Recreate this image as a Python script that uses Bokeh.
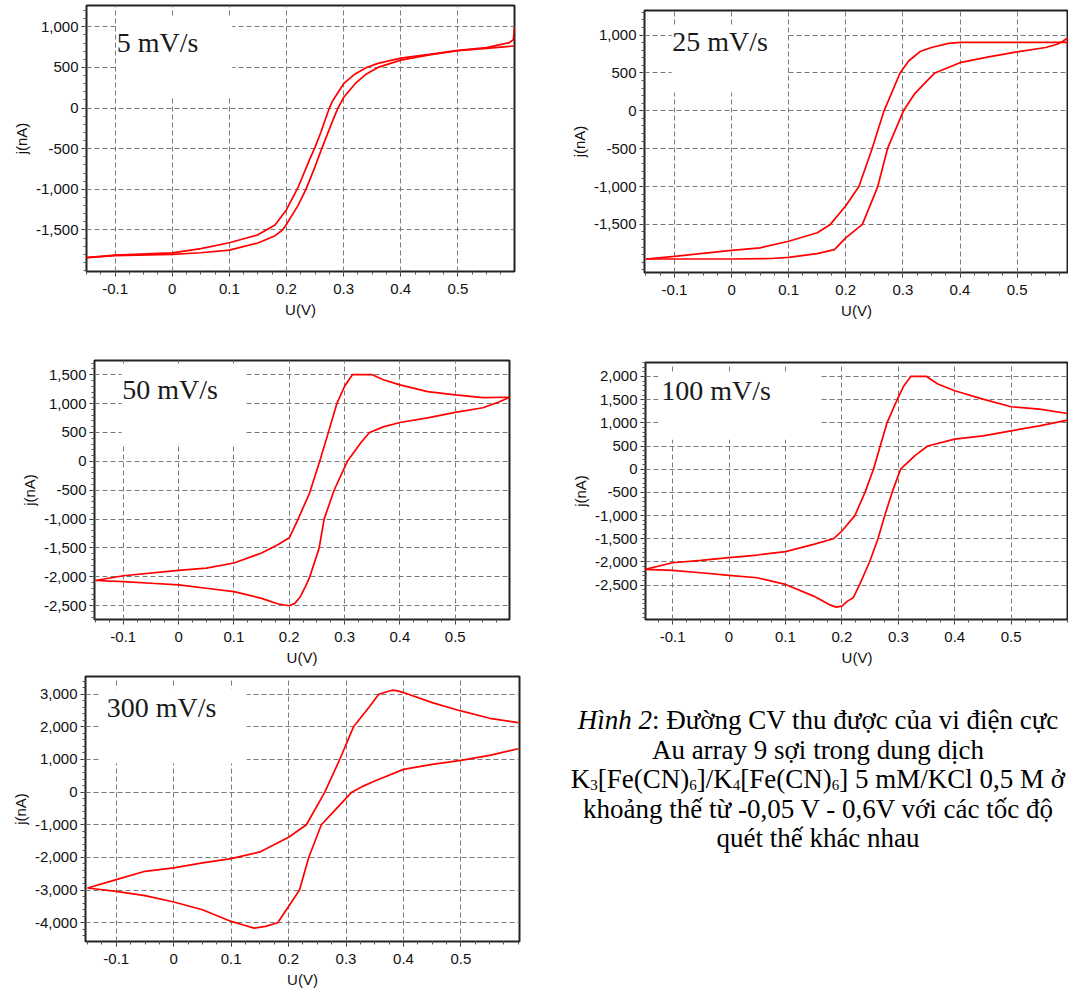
from bokeh.plotting import figure
from bokeh.layouts import column, row
from bokeh.models import (FixedTicker, NumeralTickFormatter, Label, BoxAnnotation,
                          Div, Range1d)
from bokeh.embed import file_html
from bokeh.resources import INLINE

# ---------------- data ----------------
X_TICKS = [-0.1, 0.0, 0.1, 0.2, 0.3, 0.4, 0.5]
X_MINOR = [-0.15 + 0.025 * i for i in range(31)]

# 5 mV/s
U5_UP = [-0.15, -0.1, 0.0, 0.05, 0.1, 0.15, 0.18, 0.2, 0.22, 0.24, 0.25, 0.26, 0.275, 0.28,
         0.3, 0.32, 0.34, 0.36, 0.4, 0.45, 0.5, 0.55, 0.58, 0.59, 0.597, 0.599]
J5_UP = [-1840, -1810, -1782, -1730, -1657, -1560, -1440, -1250, -980, -640, -480, -300, 0, 80,
         300, 420, 500, 550, 615, 660, 710, 743, 790, 805, 840, 1000]
U5_DN = [-0.15, -0.1, 0.0, 0.05, 0.1, 0.15, 0.18, 0.193, 0.2, 0.22, 0.234, 0.25, 0.26, 0.28,
         0.29, 0.3, 0.32, 0.34, 0.36, 0.4, 0.45, 0.5, 0.55, 0.599]
J5_DN = [-1840, -1815, -1800, -1780, -1748, -1660, -1570, -1500, -1430, -1200, -1000, -720, -530,
         -170, 0, 130, 300, 420, 500, 590, 655, 705, 735, 764]
J5_TICKS = [-1500, -1000, -500, 0, 500, 1000]

# 25 mV/s
U25_UP = [-0.15, -0.1, 0.0, 0.05, 0.1, 0.15, 0.173, 0.2, 0.223, 0.246, 0.267, 0.28, 0.295, 0.31,
          0.33, 0.35, 0.38, 0.4, 0.5, 0.59]
J25_UP = [-1957, -1922, -1842, -1810, -1722, -1610, -1500, -1254, -1000, -500, 0, 230, 500, 658,
          783, 836, 890, 903, 903, 905]
U25_DN = [-0.15, -0.1, 0.0, 0.07, 0.1, 0.15, 0.18, 0.2, 0.229, 0.256, 0.273, 0.301, 0.32, 0.34,
          0.356, 0.4, 0.45, 0.5, 0.55, 0.57, 0.58, 0.59]
J25_DN = [-1957, -1957, -1957, -1950, -1935, -1886, -1833, -1677, -1500, -1000, -500, 0, 220, 380,
          500, 636, 712, 778, 836, 880, 920, 970]
J25_TICKS = [-1500, -1000, -500, 0, 500, 1000]

# 50 mV/s
U50_UP = [-0.15, -0.1, 0.0, 0.05, 0.1, 0.15, 0.18, 0.2, 0.216, 0.237, 0.255, 0.27, 0.286, 0.3,
          0.314, 0.32, 0.35, 0.37, 0.4, 0.45, 0.5, 0.55, 0.598]
J50_UP = [-2063, -1981, -1888, -1848, -1760, -1586, -1440, -1324, -1000, -540, 0, 480, 1000, 1300,
          1500, 1500, 1500, 1412, 1324, 1208, 1150, 1103, 1110]
U50_DN = [-0.15, -0.1, -0.05, 0.0, 0.05, 0.1, 0.15, 0.18, 0.2, 0.21, 0.22, 0.23, 0.237, 0.254,
          0.263, 0.281, 0.305, 0.33, 0.345, 0.37, 0.4, 0.45, 0.5, 0.55, 0.58, 0.598]
J50_DN = [-2063, -2081, -2110, -2139, -2197, -2255, -2372, -2470, -2500, -2459, -2343, -2150, -2000,
          -1500, -1000, -500, 0, 330, 500, 597, 672, 754, 847, 928, 1033, 1110]
J50_TICKS = [-2500, -2000, -1500, -1000, -500, 0, 500, 1000, 1500]

# 100 mV/s
U100_UP = [-0.15, -0.1, -0.05, 0.0, 0.05, 0.1, 0.15, 0.185, 0.2, 0.223, 0.241, 0.256, 0.268, 0.28,
           0.298, 0.31, 0.322, 0.35, 0.37, 0.4, 0.45, 0.5, 0.55, 0.6]
J100_UP = [-2160, -2016, -1966, -1908, -1850, -1778, -1620, -1500, -1332, -1000, -500, 0, 500, 1000,
           1500, 1800, 2000, 2000, 1836, 1692, 1512, 1347, 1296, 1202]
U100_DN = [-0.15, -0.1, -0.05, 0.0, 0.05, 0.1, 0.15, 0.18, 0.19, 0.2, 0.21, 0.22, 0.231, 0.249,
           0.264, 0.276, 0.289, 0.304, 0.33, 0.352, 0.4, 0.45, 0.5, 0.55, 0.6]
J100_DN = [-2160, -2182, -2232, -2290, -2340, -2484, -2736, -2931, -2974, -2952, -2844, -2772, -2500,
           -2000, -1500, -1000, -500, 0, 300, 500, 648, 720, 828, 936, 1058]
J100_TICKS = [-2500, -2000, -1500, -1000, -500, 0, 500, 1000, 1500, 2000]

# 300 mV/s
U300_UP = [-0.15, -0.1, -0.05, 0.0, 0.05, 0.1, 0.15, 0.2, 0.231, 0.263, 0.289, 0.313, 0.34, 0.357,
           0.38, 0.39, 0.4, 0.45, 0.5, 0.55, 0.6]
J300_UP = [-2936, -2680, -2425, -2321, -2168, -2035, -1831, -1381, -1000, 0, 1000, 2000, 2600, 3000,
           3122, 3101, 3050, 2743, 2487, 2262, 2129]
U300_DN = [-0.15, -0.1, -0.05, 0.0, 0.05, 0.1, 0.12, 0.14, 0.16, 0.181, 0.2, 0.219, 0.235, 0.257,
           0.28, 0.31, 0.33, 0.35, 0.4, 0.45, 0.5, 0.55, 0.6]
J300_DN = [-2936, -3039, -3172, -3366, -3602, -3960, -4062, -4164, -4113, -4000, -3500, -3000, -2000,
           -1000, -566, 0, 185, 339, 697, 850, 973, 1126, 1330]
J300_TICKS = [-4000, -3000, -2000, -1000, 0, 1000, 2000, 3000]

SPEEDS = ["5 mV/s", "25 mV/s", "50 mV/s", "100 mV/s", "300 mV/s"]

CAPTION_LINES = [
    "<i>Hình 2</i>: Đường CV thu được của vi điện cực",
    "Au array 9 sợi trong dung dịch",
    "K<sub>3</sub>[Fe(CN)<sub>6</sub>]/K<sub>4</sub>[Fe(CN)<sub>6</sub>] 5 mM/KCl 0,5 M ở",
    "khoảng thế từ -0,05 V - 0,6V với các tốc độ",
    "quét thế khác nhau",
]

# ---------------- styling / layout ----------------
TICK_FONT = "Liberation Sans"
RED = "#ff0000"


def panel(w, h, borders, xr, yr, yticks, yminor, ux_up, jy_up, ux_dn, jy_dn,
          box, speed, lpos):
    l, r, t, b = borders
    p = figure(width=w, height=h, x_range=Range1d(*xr), y_range=Range1d(*yr),
               output_backend="svg", toolbar_location=None,
               min_border_left=l, min_border_right=r, min_border_top=t,
               min_border_bottom=b)
    p.title.visible = False
    p.background_fill_color = "white"
    p.border_fill_color = "white"
    p.outline_line_color = "#222222"
    p.outline_line_width = 2

    p.xaxis.ticker = FixedTicker(ticks=X_TICKS, minor_ticks=X_MINOR)
    p.xaxis.formatter = NumeralTickFormatter(format="0.[0]")
    ymin = [v for v in range(-5000, 4000, yminor)]
    p.yaxis.ticker = FixedTicker(ticks=yticks, minor_ticks=ymin)
    p.yaxis.formatter = NumeralTickFormatter(format="0,0")
    p.xaxis.axis_label = "U(V)"
    p.yaxis.axis_label = "j(nA)"
    for ax in (p.xaxis[0], p.yaxis[0]):
        ax.axis_line_color = None
        ax.major_tick_in = 0
        ax.major_tick_out = 5
        ax.minor_tick_in = 0
        ax.minor_tick_out = 3
        ax.major_tick_line_color = "#333333"
        ax.minor_tick_line_color = "#555555"
        ax.major_label_text_font = TICK_FONT
        ax.major_label_text_font_size = "15px"
        ax.major_label_text_color = "#111111"
        ax.axis_label_text_font = TICK_FONT
        ax.axis_label_text_font_size = "15px"
        ax.axis_label_text_font_style = "normal"
        ax.axis_label_text_color = "#111111"
    p.xaxis.major_label_standoff = 7
    p.xaxis.axis_label_standoff = 4
    p.yaxis.major_label_standoff = 3
    p.yaxis.axis_label_standoff = 3

    p.grid.grid_line_color = "#7a7a7a"
    p.grid.grid_line_dash = "5 3"
    p.grid.grid_line_width = 1

    p.line(list(ux_up), list(jy_up), line_color=RED, line_width=1.7)
    p.line(list(ux_dn), list(jy_dn), line_color=RED, line_width=1.7)

    bl, br, bb, bt = box
    p.add_layout(BoxAnnotation(left=bl, right=br, bottom=bb, top=bt,
                               fill_color="white", fill_alpha=1.0, line_color=None))
    p.add_layout(Label(x=lpos[0], y=lpos[1], text=speed, text_font="Liberation Serif",
                       text_font_size="28px", text_color="#1a1a1a",
                       text_baseline="alphabetic", text_align="left"))
    return p


p1 = panel(540, 340, (86, 26, 5, 69), (-0.150, 0.599), (-2011, 1262), J5_TICKS, 100,
           U5_UP, J5_UP, U5_DN, J5_DN, (-0.098, 0.105, 130, 1115), SPEEDS[0], (-0.097, 810))
p2 = panel(528, 340, (104, 0, 10, 68), (-0.1525, 0.590), (-2135, 1325), J25_TICKS, 100,
           U25_UP, J25_UP, U25_DN, J25_DN, (-0.105, 0.097, 243, 1128), SPEEDS[1], (-0.104, 910))
p3 = panel(540, 328, (94, 31, 20, 48), (-0.152, 0.598), (-2738, 1746), J50_TICKS, 100,
           U50_UP, J50_UP, U50_DN, J50_DN, (-0.103, 0.121, 311, 1672), SPEEDS[2], (-0.102, 1240))
p4 = panel(528, 328, (105, 0, 22, 47), (-0.148, 0.6016), (-3240, 2301), J100_TICKS, 100,
           U100_UP, J100_UP, U100_DN, J100_DN, (-0.125, 0.161, 634, 2090), SPEEDS[3], (-0.120, 1700))
p5 = panel(540, 322, (85, 21, 8, 46), (-0.1536, 0.602), (-4575, 3542), J300_TICKS, 200,
           U300_UP, J300_UP, U300_DN, J300_DN, (-0.128, 0.127, 875, 3175), SPEEDS[4], (-0.1165, 2600))

caption_html = (
    '<div style="padding-top:33px;margin-left:6px;width:534px;text-align:center;'
    'white-space:nowrap;font-family:\'Liberation Serif\';font-size:27px;line-height:29.5px;'
    'color:#000;">'
    + "<br>".join(CAPTION_LINES).replace(
        "<sub>", '<sub style="font-size:15px;line-height:0;vertical-align:-2px;">')
    + "</div>"
)
caption = Div(text=caption_html, width=528, height=322, styles={"overflow": "hidden"})

# each plot wrapped in its own column so that frames in a row are not aligned
layout = column(row(column(p1), column(p2)),
                row(column(p3), column(p4)),
                row(column(p5), caption))

open("out.html", "w").write(file_html(layout, INLINE))
